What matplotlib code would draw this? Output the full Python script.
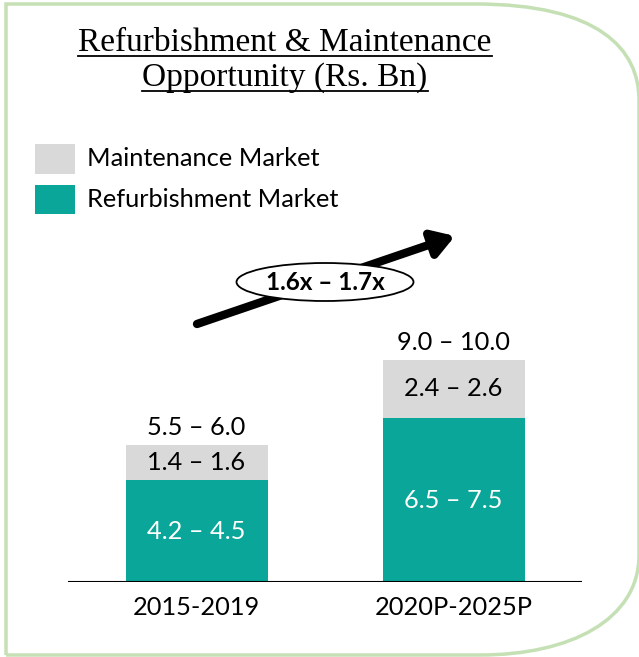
import matplotlib
matplotlib.use("Agg")
import matplotlib.pyplot as plt
from matplotlib.patches import Ellipse, FancyArrowPatch, PathPatch, Rectangle
from matplotlib.path import Path
from matplotlib.transforms import Affine2D

# ---- data -------------------------------------------------------------
periods = ["2015-2019", "2020P-2025P"]
refurbishment = [4.35, 7.0]          # midpoint of stated range
maintenance = [1.5, 2.5]
refurb_labels = ["4.2 \u2013 4.5", "6.5 \u2013 7.5"]
maint_labels = ["1.4 \u2013 1.6", "2.4 \u2013 2.6"]
total_labels = ["5.5 \u2013 6.0", "9.0 \u2013 10.0"]
growth_label = "1.6x \u2013 1.7x"
title_lines = ["Refurbishment & Maintenance", "Opportunity (Rs. Bn)"]
legend_names = ["Maintenance Market", "Refurbishment Market"]

TEAL = "#0aa699"
GREY = "#d9d9d9"
BORDER = "#c5e0b4"
W, H = 639, 657

fig = plt.figure(figsize=(W / 100, H / 100), dpi=100)
fig.patch.set_facecolor("white")

# pixel transform (origin top-left)
px = Affine2D().scale(1 / W, -1 / H).translate(0, 1) + fig.transFigure

# ---- rounded border ----------------------------------------------------
verts = [
    (6, 655), (6, 4), (475, 4),
    (600, 4), (639, 50), (639, 100),
    (639, 555),
    (639, 620), (570, 655), (480, 655),
    (6, 655),
]
codes = [Path.MOVETO, Path.LINETO, Path.LINETO,
         Path.CURVE4, Path.CURVE4, Path.CURVE4,
         Path.LINETO,
         Path.CURVE4, Path.CURVE4, Path.CURVE4,
         Path.LINETO]
fig.patches.append(PathPatch(Path(verts, codes), transform=px, fill=False,
                             edgecolor=BORDER, linewidth=2.5, zorder=0))

# ---- bar axes ----------------------------------------------------------
x0, x1, ybase, ytop = 68, 582, 582, 120
scale = 23.4  # px per unit
ax = fig.add_axes([x0 / W, (H - ybase) / H, (x1 - x0) / W, (ybase - ytop) / H])
ax.set_xlim(-0.5, 1.5)
ax.set_ylim(0, (ybase - ytop) / scale)
ax.axis("off")
ax.axhline(0, color="black", linewidth=1.5, zorder=3)

xs = list(range(len(periods)))
bw = 142 / 257
ax.bar(xs, refurbishment, width=bw, color=TEAL, zorder=2)
ax.bar(xs, maintenance, width=bw, bottom=refurbishment, color=GREY, zorder=2)

font = "Lato"
fs = 18.3
for i in xs:
    ax.text(i, refurbishment[i] / 2, refurb_labels[i], ha="center", va="center",
            color="white", fontsize=fs, family=font)
    ax.text(i, refurbishment[i] + maintenance[i] / 2, maint_labels[i],
            ha="center", va="center", color="black", fontsize=fs, family=font)
    ax.text(i, refurbishment[i] + maintenance[i] + 0.25, total_labels[i],
            ha="center", va="bottom", color="black", fontsize=fs, family=font)
    ax.text(i, -1.1, periods[i], ha="center", va="center", color="black",
            fontsize=fs, family=font)

# ---- legend ------------------------------------------------------------
for (y0, y1), name, col in zip([(144, 174), (185, 214)], legend_names, [GREY, TEAL]):
    fig.patches.append(Rectangle((35, y1), 40, y1 - y0, transform=px,
                                 facecolor=col, edgecolor="none"))
    fig.text(87 / W, 1 - ((y0 + y1) / 2) / H, name, ha="left", va="center",
             fontsize=fs, family=font, color="black")

# Rectangle is anchored at its lower-left corner in the flipped pixel frame
for p in fig.patches[1:]:
    x, y = p.get_xy()
    p.set_xy((x, y - p.get_height()))

# ---- growth arrow ------------------------------------------------------
fig.patches.append(FancyArrowPatch((197, 324), (455, 236), transform=px,
                                   arrowstyle="-|>,head_length=8,head_width=5",
                                   mutation_scale=1.6, linewidth=6,
                                   color="black", shrinkA=0, shrinkB=0))
fig.patches.append(Ellipse((325, 282), 177, 38, transform=px, facecolor="white",
                           edgecolor="black", linewidth=1.3, zorder=5))
fig.text(325 / W, 1 - 282 / H, growth_label, ha="center", va="center",
         fontsize=17.5, family=font, weight="bold", zorder=6)

# ---- underlined title --------------------------------------------------
renderer = fig.canvas.get_renderer()
for line, yc in zip(title_lines, [43, 78]):
    t = fig.text(285 / W, 1 - yc / H, line, ha="center", va="center",
                 fontsize=24, family="Liberation Serif", color="black")
    bb = t.get_window_extent(renderer)
    uy = bb.y0 + 2
    fig.lines.append(plt.Line2D([bb.x0, bb.x1], [uy, uy], transform=None,
                                color="black", linewidth=1.3))

fig.savefig("out.png", dpi=100)
